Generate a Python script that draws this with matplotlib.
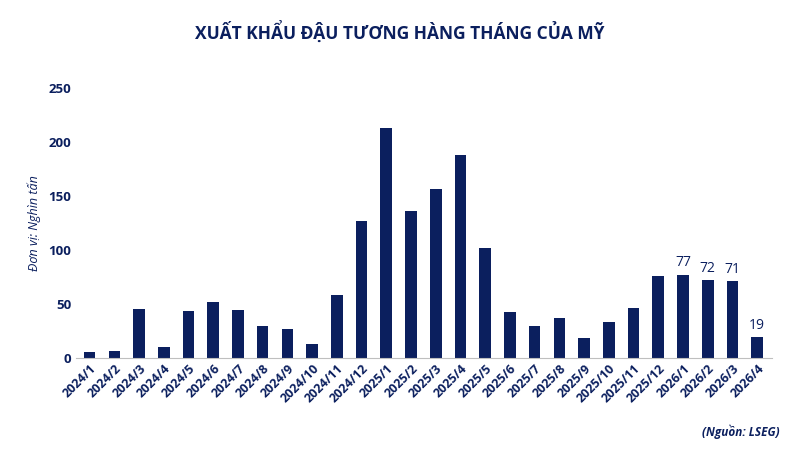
import matplotlib
matplotlib.use("Agg")
import matplotlib.pyplot as plt

# data
months = ["2024/%d" % m for m in range(1, 13)] + ["2025/%d" % m for m in range(1, 13)] + ["2026/%d" % m for m in range(1, 5)]
values = [5, 6, 45, 10, 43, 52, 44, 29, 27, 13, 58, 127,
          213, 136, 156, 188, 102, 42, 29, 37, 18, 33, 46, 76,
          77, 72, 71, 19]
labeled = ["2026/1", "2026/2", "2026/3", "2026/4"]

navy = "#0b1f5e"
plt.rcParams['font.family'] = ['Open Sans', 'DejaVu Sans']

fig = plt.figure(figsize=(8, 4.5), dpi=100)
ax = fig.add_axes([0.095, 0.205, 0.87, 0.6])
x = range(len(months))
ax.bar(x, values, width=0.47, color=navy)
for i, (m, v) in enumerate(zip(months, values)):
    if m in labeled:
        ax.text(i, v + 4, str(v), ha='center', va='bottom', fontsize=10, color=navy)

ax.set_xlim(-0.55, len(months) - 0.4)
ax.set_ylim(0, 250)
ax.set_yticks([0, 50, 100, 150, 200, 250])
ax.set_xticks(list(x))
ax.set_xticklabels(months, rotation=45, ha='right', rotation_mode='anchor',
                   fontsize=9, fontweight='bold', color=navy)
ax.tick_params(axis='y', labelsize=9.5, labelcolor=navy, length=0)
for lab in ax.get_yticklabels():
    lab.set_fontweight('bold')
ax.tick_params(axis='x', length=0, pad=3)
for s in ["top", "right", "left"]:
    ax.spines[s].set_visible(False)
ax.spines["bottom"].set_color("#bfbfbf")
ax.set_ylabel("Đơn vị: Nghìn tấn", fontsize=9, style='italic', color=navy, labelpad=5)

fig.text(0.5, 0.93, "XUẤT KHẨU ĐẬU TƯƠNG HÀNG THÁNG CỦA MỸ", ha='center', va='center',
         fontsize=12.5, fontweight='bold', color=navy)
fig.text(0.975, 0.04, "(Nguồn: LSEG)", ha='right', va='center', fontsize=8.5,
         fontweight='bold', style='italic', color=navy)

fig.savefig("out.png", dpi=100)
